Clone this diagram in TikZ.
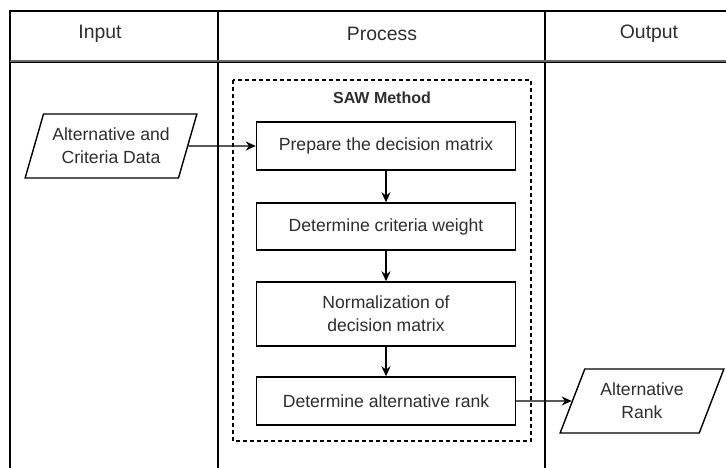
\documentclass[tikz,border=0pt]{standalone}
\usepackage{fontspec}
\setmainfont{Liberation Sans}
\usetikzlibrary{arrows.meta,shapes.geometric}
\begin{document}
\begin{tikzpicture}[x=1pt,y=-1pt,
  every node/.style={text=black!82},
  frame/.style={draw=black,line width=1.4pt},
  headtext/.style={font=\fontsize{19.4}{23}\selectfont},
  stepbox/.style={draw=black,line width=1.4pt,fill=white,minimum width=259pt,
    minimum height=48pt,inner sep=0pt,align=center,
    font=\fontsize{17.6}{23}\selectfont},
  databox/.style={draw=black,line width=1.4pt,fill=white,shape=trapezium,
    trapezium stretches=true,minimum height=64pt,inner sep=0pt,align=center,
    font=\fontsize{17.6}{23}\selectfont},
  flow/.style={draw=black,line width=1.4pt,-{Stealth[length=10pt,width=9pt]}},
  group/.style={draw=black,line width=1.3pt,dash pattern=on 4pt off 3pt}]
\useasboundingbox (0,0) rectangle (726,468);

% lane table
\draw[frame] (10,468) -- (10,11) -- (726,11);
\draw[frame] (218,11) -- (218,468);
\draw[frame] (545,11) -- (545,468);
\draw[draw=black!60,line width=2.4pt] (10,61.5) -- (726,61.5);
\draw[draw=black,line width=0.8pt] (10,62) -- (726,62);

\node[headtext] (hin) at (100,34) {Input};
\node[headtext] (hproc) at (382,34) {Process};
\node[headtext] (hout) at (649,34) {Output};

% SAW method group
\draw[group] (233,80) rectangle (531,441);
\node[font=\bfseries\fontsize{16}{19}\selectfont] (saw) at (382,98) {SAW Method};

% steps
\node[stepbox] (b1) at (386,146) {Prepare the decision matrix};
\node[stepbox,minimum height=47pt] (b2) at (386,226.5) {Determine criteria weight};
\node[stepbox,minimum height=64pt] (b3) at (386,314) {Normalization of\\decision matrix};
\node[stepbox] (b4) at (386,401) {Determine alternative rank};

% input and output data
\node[databox,minimum width=172pt,trapezium left angle=66,trapezium right angle=114]
  (inp) at (111,146) {Alternative and\\Criteria Data};
\node[databox,minimum width=164pt,trapezium left angle=63.5,trapezium right angle=116.5]
  (outp) at (642,401) {Alternative\\Rank};

% connectors
\draw[flow] (inp.east) -- (b1.west);
\draw[flow] (b1.south) -- (b2.north);
\draw[flow] (b2.south) -- (b3.north);
\draw[flow] (b3.south) -- (b4.north);
\draw[flow] (b4.east) -- (outp.west);
\end{tikzpicture}
\end{document}
